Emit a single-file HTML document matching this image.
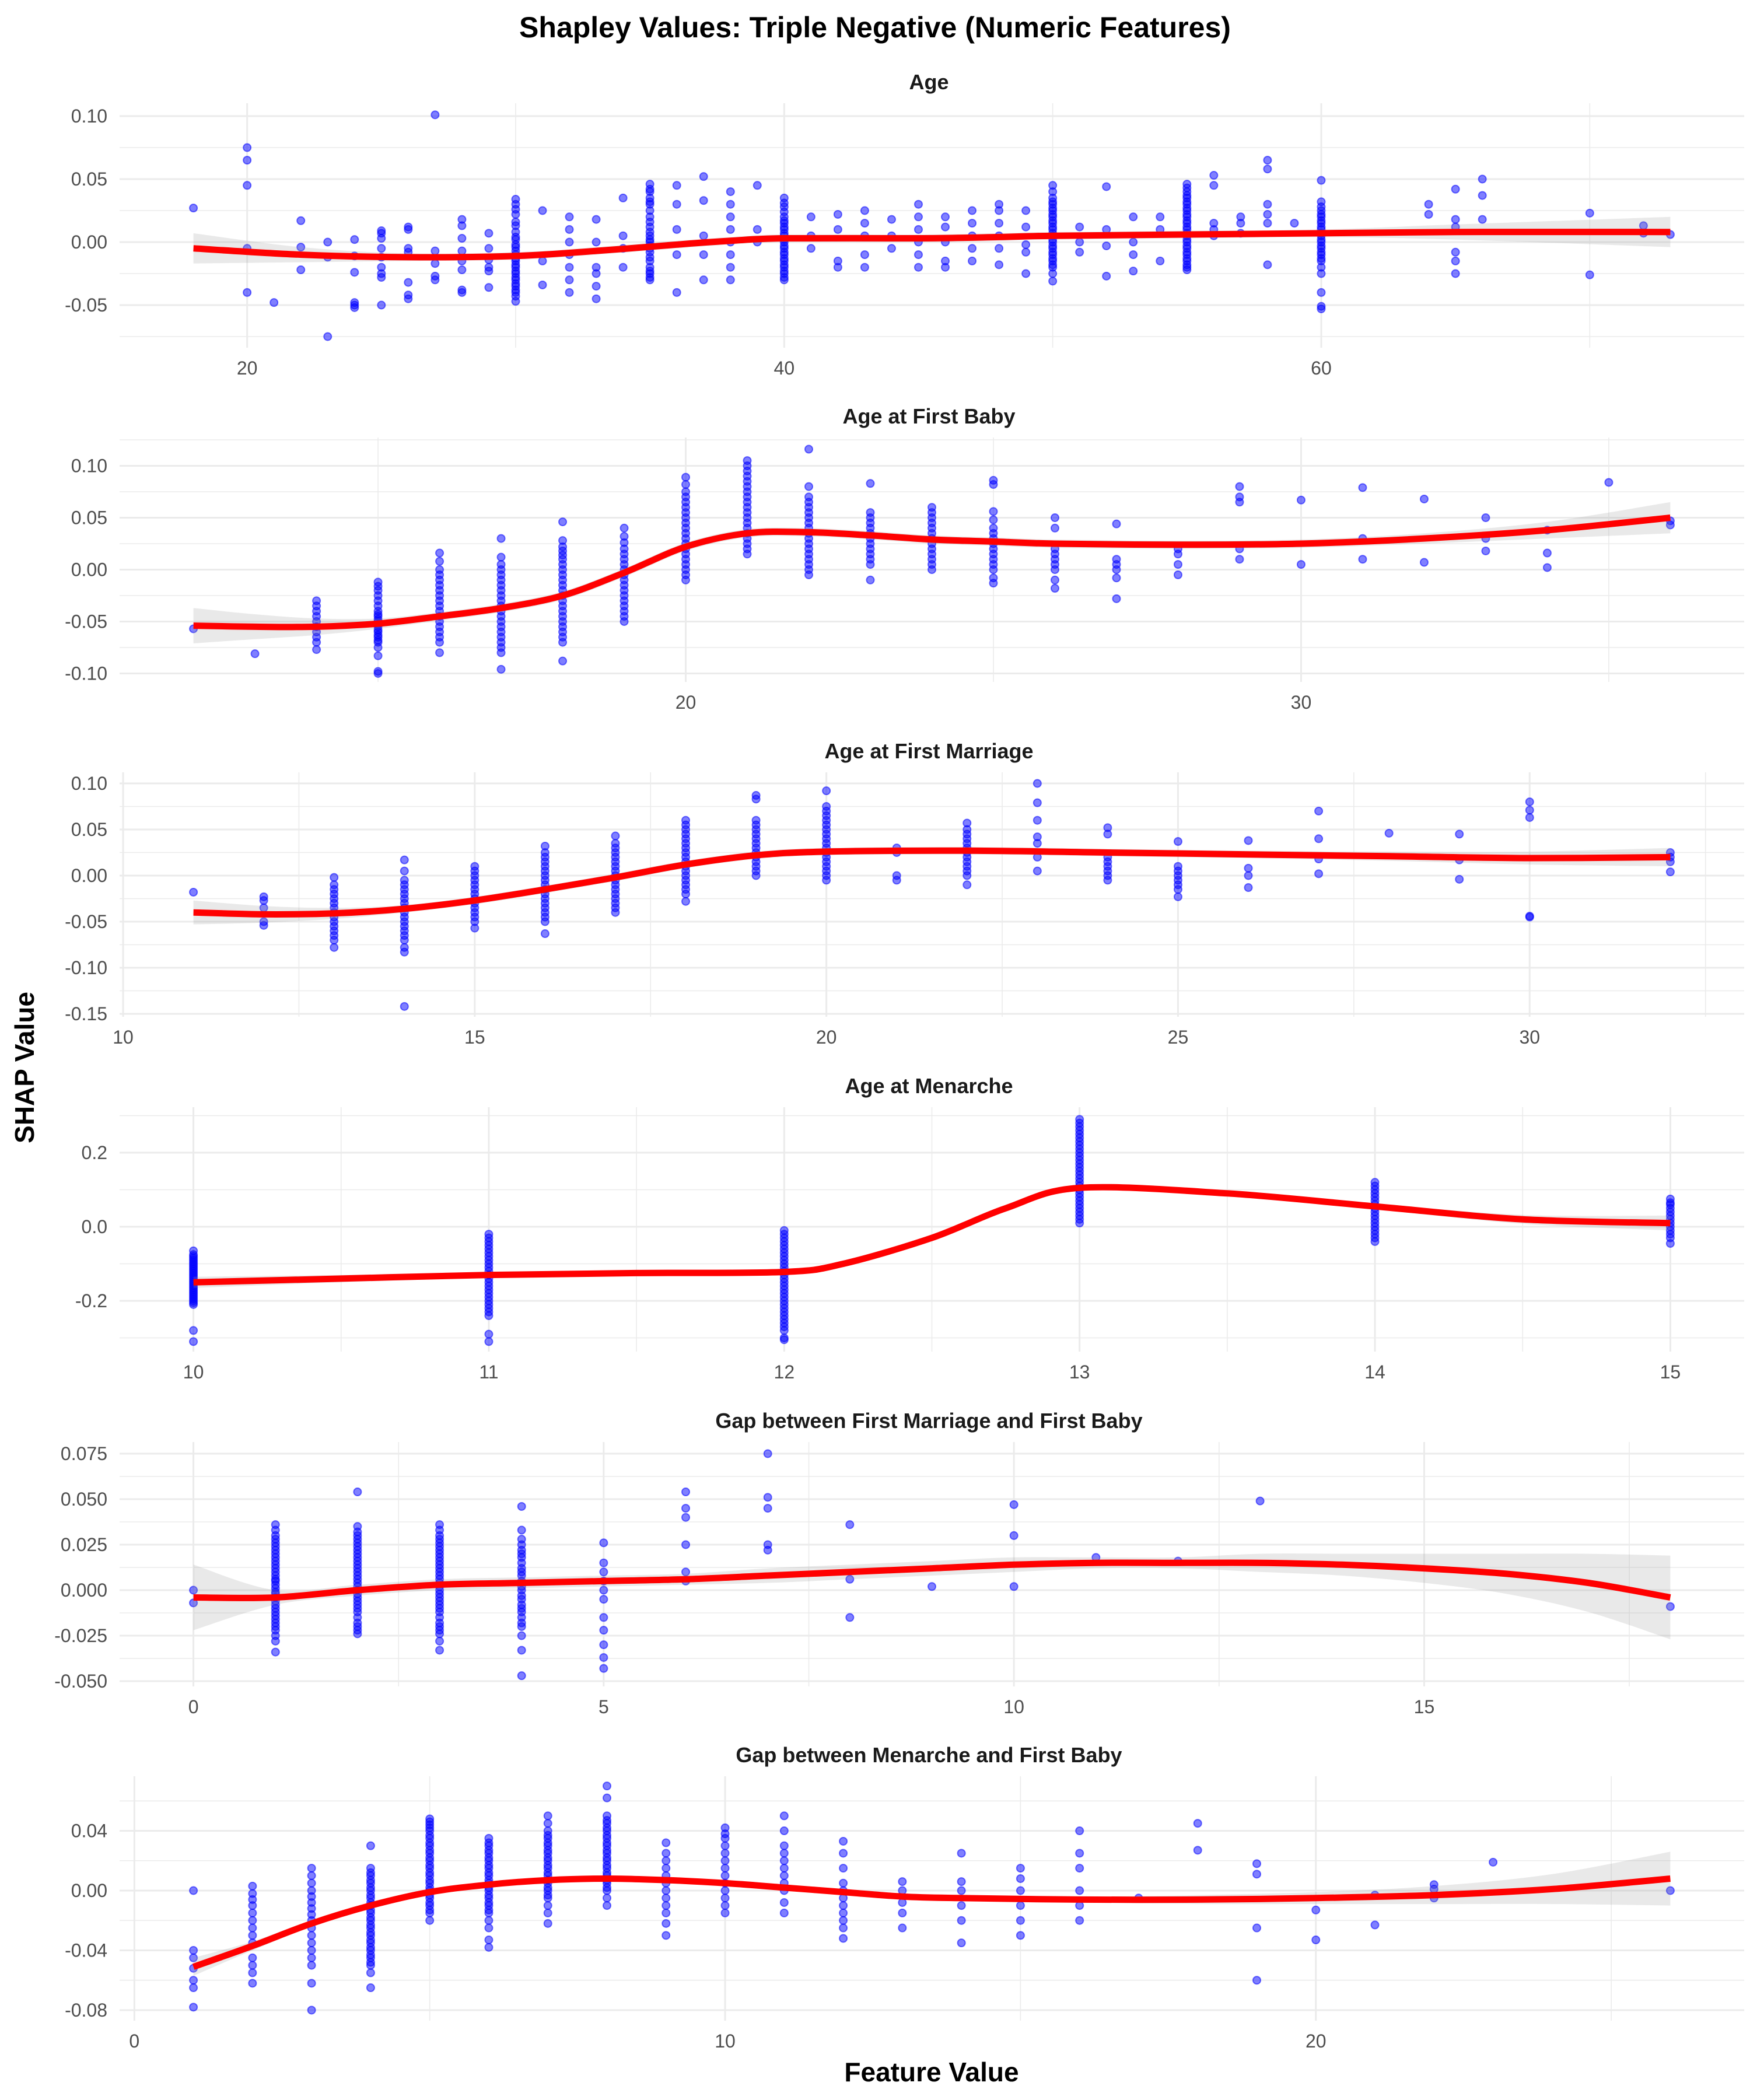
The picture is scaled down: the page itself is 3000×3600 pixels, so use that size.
<!DOCTYPE html>
<html><head><meta charset="utf-8">
<style>
html,body{margin:0;padding:0;background:#fff;}
svg{display:block;}
text{font-family:"Liberation Sans",sans-serif;}
</style></head>
<body>
<svg id="chart" width="3000" height="3600" xmlns="http://www.w3.org/2000/svg">
<rect width="3000" height="3600" fill="#fff"/>
<text x="1500" y="64" text-anchor="middle" font-size="50" font-weight="bold" fill="#000">Shapley Values: Triple Negative (Numeric Features)</text>
<text transform="translate(58,1830) rotate(-90)" text-anchor="middle" font-size="46" font-weight="bold" fill="#000">SHAP Value</text>
<text x="1597" y="3568" text-anchor="middle" font-size="46" font-weight="bold" fill="#000">Feature Value</text>
</svg>
<script>
// ---------- Panel 1: Age ----------
const ageX = [18,20,21,22,23,24,25,26,27,28,29,30,31,32,33,34,35,36,37,38,39,40,41,42,43,44,45,46,47,48,49,50,51,52,53,54,55,56,57,58,59,60,64,65,66,70,72,73];
const ageVals = [[0.027],[0.075,0.065,0.045,-0.005,-0.04],[-0.048],[0.017,-0.004,-0.022],[0.0,-0.012,-0.075],
[0.002,-0.011,-0.024,-0.048,-0.05,-0.052],[0.009,0.007,0.003,-0.005,-0.012,-0.02,-0.025,-0.028,-0.05],
[0.012,0.01,-0.005,-0.008,-0.032,-0.042,-0.045],[0.101,-0.007,-0.017,-0.027,-0.03],
[0.018,0.013,0.003,-0.007,-0.015,-0.022,-0.038,-0.04],[0.007,-0.005,-0.014,-0.02,-0.023,-0.036],
[0.034,0.03,0.026,0.022,0.016,0.013,0.008,0.004,0.002,-0.002,-0.004,-0.007,-0.01,-0.013,-0.015,-0.018,-0.02,-0.023,-0.025,-0.028,-0.03,-0.033,-0.035,-0.038,-0.04,-0.043,-0.047],
[0.025,-0.015,-0.034],[0.02,0.01,0.0,-0.01,-0.02,-0.03,-0.04],[0.018,0.0,-0.02,-0.025,-0.035,-0.045],
[0.035,0.005,-0.005,-0.02],[0.046,0.042,0.04,0.035,0.032,0.03,0.025,0.02,0.016,0.012,0.008,0.005,0.002,0.0,-0.003,-0.005,-0.008,-0.012,-0.015,-0.02,-0.023,-0.025,-0.028,-0.03],
[0.045,0.03,0.01,-0.01,-0.04],[0.052,0.033,0.005,-0.01,-0.03],[0.04,0.03,0.02,0.01,0.0,-0.01,-0.02,-0.03],
[0.045,0.01,0.0],[0.035,0.031,0.028,0.024,0.02,0.017,0.015,0.012,0.01,0.007,0.005,0.002,0.0,-0.003,-0.005,-0.008,-0.01,-0.013,-0.015,-0.018,-0.02,-0.023,-0.025,-0.028,-0.03],
[0.02,0.005,-0.005],[0.022,0.01,-0.015,-0.02],[0.025,0.015,0.005,-0.01,-0.02],[0.018,0.005,-0.005],
[0.03,0.02,0.01,0.0,-0.01,-0.02],[0.02,0.012,0.0,-0.015,-0.02],[0.025,0.015,0.005,-0.005,-0.015],
[0.03,0.025,0.015,0.005,-0.005,-0.018],[0.025,0.012,-0.002,-0.008,-0.025],
[0.045,0.04,0.035,0.032,0.03,0.027,0.025,0.022,0.02,0.017,0.015,0.012,0.01,0.007,0.005,0.002,0.0,-0.003,-0.005,-0.008,-0.01,-0.013,-0.015,-0.018,-0.02,-0.025,-0.031],
[0.012,0.0,-0.008],[0.044,0.01,-0.003,-0.027],[0.02,0.0,-0.01,-0.023],[0.02,0.01,-0.015],
[0.046,0.043,0.04,0.037,0.035,0.032,0.03,0.027,0.025,0.022,0.02,0.017,0.015,0.012,0.01,0.007,0.005,0.002,0.0,-0.003,-0.005,-0.008,-0.01,-0.013,-0.015,-0.018,-0.02,-0.022],
[0.053,0.045,0.015,0.01,0.005],[0.02,0.015,0.007],[0.065,0.058,0.03,0.022,0.015,-0.018],[0.015],
[0.049,0.032,0.028,0.025,0.022,0.02,0.017,0.015,0.012,0.01,0.007,0.005,0.002,0.0,-0.003,-0.005,-0.008,-0.01,-0.013,-0.015,-0.02,-0.025,-0.04,-0.051,-0.053],
[0.03,0.022],[0.042,0.018,0.012,-0.008,-0.015,-0.025],[0.05,0.037,0.018],[0.023,-0.026],[0.013,0.007],[0.006]];
const ageSmoothX = [18,22,26,30,33,36,38,40,45,48,50,55,60,65,73];
const ageSmoothY = [-0.005,-0.01,-0.012,-0.011,-0.007,-0.002,0.001,0.003,0.003,0.004,0.005,0.006,0.007,0.008,0.008];
const ageSmoothSE = [0.012,0.006,0.003,0.003,0.003,0.003,0.003,0.003,0.003,0.003,0.003,0.003,0.003,0.006,0.012];
const ageXTicks = [20,40,60];
const ageYTicks = [-0.05,0,0.05,0.10];
const ageYLabels = ["-0.05","0.00","0.05","0.10"];

// ---------- Panel 2: Age at First Baby ----------
const babyX = [12,13,14,15,16,17,18,19,20,21,22,23,24,25,26,27,28,29,30,31,32,33,34,35,36];
const babyVals = [[-0.057],[-0.081],[-0.03,-0.035,-0.04,-0.045,-0.05,-0.055,-0.06,-0.065,-0.07,-0.077],
[-0.012,-0.016,-0.02,-0.025,-0.03,-0.035,-0.04,-0.043,-0.045,-0.048,-0.05,-0.053,-0.055,-0.058,-0.06,-0.063,-0.065,-0.068,-0.07,-0.075,-0.083,-0.098,-0.1],
[0.016,0.008,0.0,-0.005,-0.01,-0.015,-0.02,-0.025,-0.03,-0.035,-0.04,-0.045,-0.05,-0.055,-0.06,-0.065,-0.07,-0.08],
[0.03,0.012,0.005,0.0,-0.005,-0.01,-0.015,-0.02,-0.025,-0.03,-0.035,-0.04,-0.045,-0.05,-0.055,-0.06,-0.065,-0.07,-0.075,-0.08,-0.096],
[0.046,0.028,0.022,0.018,0.014,0.01,0.005,0.0,-0.005,-0.01,-0.015,-0.02,-0.025,-0.03,-0.035,-0.04,-0.045,-0.05,-0.055,-0.06,-0.065,-0.07,-0.088],
[0.04,0.032,0.026,0.02,0.015,0.01,0.005,0.0,-0.005,-0.01,-0.015,-0.02,-0.025,-0.03,-0.035,-0.04,-0.045,-0.05],
[0.089,0.082,0.075,0.07,0.065,0.06,0.055,0.05,0.045,0.04,0.035,0.03,0.025,0.02,0.015,0.01,0.005,0.0,-0.005,-0.01],
[0.105,0.1,0.095,0.09,0.085,0.08,0.075,0.07,0.065,0.06,0.055,0.05,0.045,0.04,0.035,0.03,0.025,0.02,0.015],
[0.116,0.08,0.07,0.065,0.06,0.055,0.05,0.045,0.04,0.035,0.03,0.025,0.02,0.015,0.01,0.005,0.0,-0.005],
[0.083,0.055,0.05,0.045,0.04,0.035,0.03,0.025,0.02,0.015,0.01,0.005,-0.01],[0.06,0.055,0.05,0.045,0.04,0.035,0.03,0.025,0.02,0.015,0.01,0.005,0.0],
[0.086,0.082,0.056,0.048,0.04,0.035,0.03,0.025,0.02,0.015,0.01,0.005,0.0,-0.008,-0.013],[0.05,0.04,0.02,0.015,0.01,0.005,0.0,-0.01,-0.018],
[0.044,0.01,0.005,0.0,-0.008,-0.028],[0.02,0.015,0.005,-0.005],[0.08,0.07,0.065,0.02,0.01],
[0.067,0.005],[0.079,0.03,0.01],[0.068,0.007],[0.05,0.03,0.018],[0.038,0.016,0.002],[0.084],[0.047,0.043]];
const babySmoothX = [12,13,14,15,16,17,18,19,20,21,22,23,24,25,26,28,30,32,34,36];
const babySmoothY = [-0.054,-0.055,-0.055,-0.052,-0.045,-0.037,-0.025,-0.003,0.022,0.035,0.036,0.033,0.029,0.027,0.025,0.024,0.025,0.03,0.038,0.05];
const babySmoothSE = [0.017,0.012,0.008,0.005,0.004,0.004,0.004,0.004,0.004,0.004,0.004,0.004,0.004,0.004,0.004,0.004,0.004,0.005,0.008,0.015];
const babyXTicks = [20,30];
const babyYTicks = [-0.10,-0.05,0,0.05,0.10];
const babyYLabels = ["-0.10","-0.05","0.00","0.05","0.10"];

// ---------- Panel 3: Age at First Marriage ----------
const marX = [11,12,13,14,15,16,17,18,19,20,21,22,23,24,25,26,27,28,29,30,32];
const marVals = [[-0.018],[-0.023,-0.027,-0.035,-0.05,-0.054],
[-0.002,-0.01,-0.015,-0.02,-0.025,-0.03,-0.035,-0.04,-0.045,-0.05,-0.055,-0.06,-0.065,-0.07,-0.078],
[0.017,0.005,-0.005,-0.01,-0.015,-0.02,-0.025,-0.03,-0.035,-0.04,-0.045,-0.05,-0.055,-0.06,-0.065,-0.07,-0.078,-0.083,-0.142],
[0.01,0.005,0.0,-0.005,-0.01,-0.015,-0.02,-0.025,-0.03,-0.035,-0.04,-0.045,-0.05,-0.057],
[0.032,0.025,0.02,0.015,0.01,0.005,0.0,-0.005,-0.01,-0.015,-0.02,-0.025,-0.03,-0.035,-0.04,-0.045,-0.05,-0.063],
[0.043,0.035,0.03,0.025,0.02,0.015,0.01,0.005,0.0,-0.005,-0.01,-0.015,-0.02,-0.025,-0.03,-0.035,-0.04],
[0.06,0.055,0.05,0.045,0.04,0.035,0.03,0.025,0.02,0.015,0.01,0.005,0.0,-0.005,-0.01,-0.015,-0.02,-0.028],
[0.087,0.083,0.06,0.055,0.05,0.045,0.04,0.035,0.03,0.025,0.02,0.015,0.01,0.005,0.0],
[0.092,0.075,0.07,0.065,0.06,0.055,0.05,0.045,0.04,0.035,0.03,0.025,0.02,0.015,0.01,0.005,0.0,-0.005],
[0.03,0.025,0.0,-0.005],[0.057,0.05,0.045,0.04,0.035,0.03,0.025,0.02,0.015,0.01,0.005,0.0,-0.01],
[0.1,0.079,0.06,0.042,0.035,0.02,0.005],[0.052,0.045,0.02,0.015,0.01,0.005,0.0,-0.005],
[0.037,0.01,0.005,0.0,-0.005,-0.01,-0.015,-0.023],[0.038,0.008,0.0,-0.013],[0.07,0.04,0.018,0.002],
[0.046],[0.045,0.017,-0.004],[0.08,0.071,0.063,-0.044,-0.045],[0.025,0.02,0.015,0.004]];
const marSmoothX = [11,12,13,14,15,16,17,18,19,20,22,24,26,28,30,32];
const marSmoothY = [-0.04,-0.042,-0.041,-0.036,-0.027,-0.015,-0.002,0.012,0.022,0.026,0.027,0.025,0.023,0.021,0.019,0.02];
const marSmoothSE = [0.013,0.009,0.006,0.004,0.004,0.004,0.004,0.004,0.004,0.004,0.004,0.004,0.004,0.005,0.007,0.01];
const marXTicks = [10,15,20,25,30];
const marYTicks = [-0.15,-0.10,-0.05,0,0.05,0.10];
const marYLabels = ["-0.15","-0.10","-0.05","0.00","0.05","0.10"];

// ---------- Panel 4: Age at Menarche ----------
const menX = [10,11,12,13,14,15];
const menVals = [[-0.065,-0.075,-0.08,-0.085,-0.09,-0.095,-0.1,-0.105,-0.11,-0.115,-0.12,-0.125,-0.13,-0.135,-0.14,-0.145,-0.15,-0.155,-0.16,-0.165,-0.17,-0.175,-0.18,-0.185,-0.19,-0.195,-0.2,-0.205,-0.21,-0.28,-0.31],
[-0.02,-0.03,-0.04,-0.05,-0.06,-0.07,-0.08,-0.09,-0.1,-0.11,-0.12,-0.13,-0.14,-0.15,-0.16,-0.17,-0.18,-0.19,-0.2,-0.21,-0.22,-0.23,-0.24,-0.29,-0.31],
[-0.01,-0.02,-0.03,-0.04,-0.05,-0.06,-0.07,-0.08,-0.09,-0.1,-0.11,-0.12,-0.13,-0.14,-0.15,-0.16,-0.17,-0.18,-0.19,-0.2,-0.21,-0.22,-0.23,-0.24,-0.25,-0.26,-0.27,-0.28,-0.3,-0.305],
[0.29,0.28,0.27,0.26,0.25,0.24,0.23,0.22,0.21,0.2,0.19,0.18,0.17,0.16,0.15,0.14,0.13,0.12,0.11,0.1,0.09,0.08,0.07,0.06,0.05,0.04,0.03,0.02,0.01],
[0.12,0.11,0.1,0.09,0.08,0.07,0.06,0.05,0.04,0.03,0.02,0.01,0.0,-0.01,-0.02,-0.03,-0.04],
[0.075,0.065,0.06,0.05,0.04,0.03,0.02,0.01,0.0,-0.01,-0.02,-0.03,-0.045]];
const menSmoothX = [10,10.5,11,11.5,12,12.2,12.5,12.75,13,13.5,14,14.5,15];
const menSmoothY = [-0.15,-0.14,-0.13,-0.125,-0.122,-0.1,-0.03,0.05,0.105,0.09,0.055,0.02,0.01];
const menSmoothSE = [0.015,0.01,0.008,0.008,0.008,0.008,0.008,0.008,0.008,0.008,0.008,0.012,0.02];
const menXTicks = [10,11,12,13,14,15];
const menYTicks = [-0.2,0,0.2];
const menYLabels = ["-0.2","0.0","0.2"];

// ---------- Panel 5: Gap between First Marriage and First Baby ----------
const gapMbX = [0,1,2,3,4,5,6,7,8,9,10,11,12,13,18];
const gapMbVals = [[0.0,-0.007],
[0.036,0.033,0.03,0.028,0.026,0.024,0.022,0.02,0.018,0.016,0.014,0.012,0.01,0.008,0.006,0.005,0.003,0.001,-0.001,-0.002,-0.004,-0.006,-0.008,-0.01,-0.012,-0.014,-0.016,-0.018,-0.02,-0.022,-0.025,-0.028,-0.034],
[0.054,0.035,0.032,0.03,0.028,0.026,0.024,0.022,0.02,0.018,0.016,0.014,0.012,0.01,0.008,0.006,0.004,0.002,0.0,-0.002,-0.004,-0.006,-0.008,-0.01,-0.012,-0.015,-0.018,-0.02,-0.022,-0.024],
[0.036,0.033,0.03,0.028,0.026,0.024,0.022,0.02,0.018,0.016,0.014,0.012,0.01,0.008,0.006,0.004,0.002,0.0,-0.002,-0.004,-0.006,-0.008,-0.01,-0.012,-0.015,-0.018,-0.02,-0.022,-0.024,-0.028,-0.033],
[0.046,0.033,0.028,0.025,0.022,0.02,0.018,0.015,0.012,0.01,0.008,0.005,0.002,0.0,-0.003,-0.005,-0.008,-0.01,-0.012,-0.015,-0.018,-0.02,-0.025,-0.033,-0.047],
[0.026,0.015,0.01,0.005,0.0,-0.005,-0.015,-0.022,-0.03,-0.037,-0.043],
[0.054,0.045,0.04,0.025,0.01,0.005],[0.075,0.051,0.045,0.025,0.022],[0.036,0.006,-0.015],[0.002],
[0.047,0.03,0.002],[0.018],[0.016],[0.049],[-0.009]];
const gapMbSmoothX = [0,1,2,3,4,5,6,7,8,9,10,11,12,13,14,15,16,17,18];
const gapMbSmoothY = [-0.004,-0.004,0.0,0.003,0.004,0.005,0.006,0.008,0.01,0.012,0.014,0.015,0.015,0.015,0.014,0.012,0.009,0.004,-0.004];
const gapMbSmoothSE = [0.018,0.004,0.003,0.003,0.003,0.003,0.003,0.004,0.004,0.004,0.004,0.003,0.003,0.005,0.006,0.008,0.011,0.016,0.023];
const gapMbXTicks = [0,5,10,15];
const gapMbYTicks = [-0.05,-0.025,0,0.025,0.05,0.075];
const gapMbYLabels = ["-0.050","-0.025","0.000","0.025","0.050","0.075"];

// ---------- Panel 6: Gap between Menarche and First Baby ----------
const gapMenX = [1,2,3,4,5,6,7,8,9,10,11,12,13,14,15,16,17,18,19,20,21,22,23,26];
const gapMenVals = [[0.0,-0.04,-0.045,-0.052,-0.06,-0.065,-0.078],
[0.003,-0.002,-0.006,-0.01,-0.015,-0.02,-0.025,-0.03,-0.035,-0.045,-0.05,-0.055,-0.062],
[0.015,0.01,0.005,0.0,-0.004,-0.008,-0.012,-0.016,-0.02,-0.025,-0.03,-0.035,-0.04,-0.045,-0.05,-0.062,-0.08],
[0.03,0.015,0.012,0.01,0.007,0.005,0.002,0.0,-0.003,-0.005,-0.008,-0.01,-0.013,-0.015,-0.018,-0.02,-0.023,-0.025,-0.028,-0.03,-0.033,-0.035,-0.038,-0.04,-0.043,-0.045,-0.048,-0.05,-0.055,-0.065],
[0.048,0.046,0.044,0.042,0.04,0.037,0.035,0.032,0.03,0.027,0.025,0.022,0.02,0.017,0.015,0.012,0.01,0.007,0.005,0.002,0.0,-0.003,-0.005,-0.008,-0.01,-0.013,-0.015,-0.02],
[0.035,0.032,0.03,0.027,0.025,0.022,0.02,0.017,0.015,0.012,0.01,0.007,0.005,0.002,0.0,-0.003,-0.005,-0.008,-0.01,-0.013,-0.015,-0.02,-0.025,-0.033,-0.038],
[0.05,0.045,0.04,0.037,0.035,0.032,0.03,0.027,0.025,0.022,0.02,0.017,0.015,0.012,0.01,0.007,0.005,0.002,0.0,-0.003,-0.005,-0.01,-0.015,-0.022],
[0.07,0.062,0.05,0.047,0.045,0.042,0.04,0.037,0.035,0.032,0.03,0.027,0.025,0.022,0.02,0.017,0.015,0.012,0.01,0.007,0.005,0.002,0.0,-0.005,-0.01],
[0.032,0.025,0.02,0.015,0.01,0.005,0.0,-0.005,-0.01,-0.015,-0.022,-0.03],
[0.042,0.038,0.035,0.03,0.025,0.02,0.015,0.01,0.005,0.0,-0.005,-0.01,-0.015],
[0.05,0.04,0.03,0.025,0.02,0.015,0.01,0.005,0.0,-0.008,-0.015],
[0.033,0.025,0.015,0.005,0.0,-0.005,-0.01,-0.015,-0.02,-0.025,-0.032],
[0.006,0.0,-0.008,-0.015,-0.025],[0.025,0.006,0.0,-0.01,-0.02,-0.035],
[0.015,0.008,0.0,-0.01,-0.02,-0.03],[0.04,0.025,0.015,0.0,-0.01,-0.02],[-0.005],[0.045,0.027],
[0.018,0.011,-0.025,-0.06],[-0.013,-0.033],[-0.003,-0.023],[0.004,0.001,-0.005],[0.019],[0.0]];
const gapMenSmoothX = [1,2,3,4,5,6,7,8,9,10,11,12,13,14,16,18,20,22,24,26];
const gapMenSmoothY = [-0.051,-0.037,-0.022,-0.01,-0.001,0.004,0.007,0.008,0.007,0.005,0.002,-0.001,-0.004,-0.005,-0.006,-0.006,-0.005,-0.003,0.001,0.008];
const gapMenSmoothSE = [0.006,0.003,0.002,0.002,0.002,0.002,0.002,0.002,0.002,0.002,0.002,0.002,0.002,0.002,0.002,0.003,0.004,0.006,0.01,0.018];
const gapMenXTicks = [0,10,20];
const gapMenYTicks = [-0.08,-0.04,0,0.04];
const gapMenYLabels = ["-0.08","-0.04","0.00","0.04"];

const panels = [
 {name:'age', title:'Age', top:177, y0:415, ys:2160, xmin:18, xmax:73, X:ageX, V:ageVals, SX:ageSmoothX, SY:ageSmoothY, SE:ageSmoothSE, XT:ageXTicks, YT:ageYTicks, YL:ageYLabels, xminor:10, yminorStep:0.025},
 {name:'age-first-baby', title:'Age at First Baby', top:750, y0:976.5, ys:1780, xmin:12, xmax:36, X:babyX, V:babyVals, SX:babySmoothX, SY:babySmoothY, SE:babySmoothSE, XT:babyXTicks, YT:babyYTicks, YL:babyYLabels, xminor:5, yminorStep:0.025},
 {name:'age-first-marriage', title:'Age at First Marriage', top:1324, y0:1501, ys:1580, xmin:11, xmax:32, X:marX, V:marVals, SX:marSmoothX, SY:marSmoothY, SE:marSmoothSE, XT:marXTicks, YT:marYTicks, YL:marYLabels, xminor:2.5, yminorStep:0.025},
 {name:'age-menarche', title:'Age at Menarche', top:1898, y0:2103, ys:635, xmin:10, xmax:15, X:menX, V:menVals, SX:menSmoothX, SY:menSmoothY, SE:menSmoothSE, XT:menXTicks, YT:menYTicks, YL:menYLabels, xminor:0.5, yminorStep:0.1},
 {name:'gap-marriage-baby', title:'Gap between First Marriage and First Baby', top:2472, y0:2726, ys:3120, xmin:0, xmax:18, X:gapMbX, V:gapMbVals, SX:gapMbSmoothX, SY:gapMbSmoothY, SE:gapMbSmoothSE, XT:gapMbXTicks, YT:gapMbYTicks, YL:gapMbYLabels, xminor:2.5, yminorStep:0.0125},
 {name:'gap-menarche-baby', title:'Gap between Menarche and First Baby', top:3045, y0:3241, ys:2562, xmin:1, xmax:26, X:gapMenX, V:gapMenVals, SX:gapMenSmoothX, SY:gapMenSmoothY, SE:gapMenSmoothSE, XT:gapMenXTicks, YT:gapMenYTicks, YL:gapMenYLabels, xminor:5, yminorStep:0.02}
];

const NS='http://www.w3.org/2000/svg';
const svg=document.getElementById('chart');
const PL=205, PR=2990, PH=419;
function mk(tag,attrs,parent){const e=document.createElementNS(NS,tag);for(const k in attrs)e.setAttribute(k,attrs[k]);(parent||svg).appendChild(e);return e;}
function pathFrom(pts){
  let d='M'+pts[0][0].toFixed(1)+','+pts[0][1].toFixed(1);
  for(let i=0;i<pts.length-1;i++){
    const p0=pts[Math.max(0,i-1)],p1=pts[i],p2=pts[i+1],p3=pts[Math.min(pts.length-1,i+2)];
    const c1=[p1[0]+(p2[0]-p0[0])/6,p1[1]+(p2[1]-p0[1])/6];
    const c2=[p2[0]-(p3[0]-p1[0])/6,p2[1]-(p3[1]-p1[1])/6];
    d+='C'+c1[0].toFixed(1)+','+c1[1].toFixed(1)+' '+c2[0].toFixed(1)+','+c2[1].toFixed(1)+' '+p2[0].toFixed(1)+','+p2[1].toFixed(1);
  }
  return d;
}
panels.forEach(p=>{
  const g=mk('g',{});
  
  
  const span=p.xmax-p.xmin, pad=span*0.05;
  const lo=p.xmin-pad, hi=p.xmax+pad;
  const sx=v=>PL+(v-lo)/(hi-lo)*(PR-PL);
  const sy=v=>p.y0-v*p.ys;
  const top=p.top, bot=p.top+PH;
  const vMin=(p.y0-bot)/p.ys, vMax=(p.y0-top)/p.ys;
  const st=p.yminorStep;
  for(let k=Math.ceil(vMin/st);k<=Math.floor(vMax/st);k++){
    const v=k*st; const y=sy(v);
    const major=p.YT.some(t=>Math.abs(t-v)<1e-9);
    const l=mk('line',{x1:PL,x2:PR,y1:y,y2:y,stroke:'#ebebeb','stroke-width':major?3:1.6},g);
    
    
  }
  for(let k=Math.ceil(lo/p.xminor);k<=Math.floor(hi/p.xminor);k++){
    const v=k*p.xminor; const x=sx(v);
    const major=p.XT.some(t=>Math.abs(t-v)<1e-9);
    const l=mk('line',{x1:x,x2:x,y1:top,y2:bot,stroke:'#ebebeb','stroke-width':major?3:1.6},g);
    
    
  }
  p.YT.forEach((v,i)=>{
    const t=mk('text',{x:184,y:sy(v)+11,'text-anchor':'end','font-size':32,fill:'#4d4d4d'},g);
    t.textContent=p.YL[i];
    
    
  });
  p.XT.forEach(v=>{
    const t=mk('text',{x:sx(v),y:bot+46,'text-anchor':'middle','font-size':32,fill:'#4d4d4d'},g);
    t.textContent=String(v);
    
    
  });
  const tt=mk('text',{x:(PL+PR)/2-5,y:top-24,'text-anchor':'middle','font-size':36,'font-weight':'bold',fill:'#1a1a1a'},g);
  tt.textContent=p.title;
  
  
  p.X.forEach((xv,i)=>{
    p.V[i].forEach(v=>{
      const c=mk('circle',{cx:sx(xv),cy:sy(v),r:6.5,fill:'rgba(0,0,255,0.5)',stroke:'rgba(0,0,255,0.55)','stroke-width':2},g);
      
      
    });
  });
  const up=p.SX.map((x,i)=>[sx(x),sy(p.SY[i]+p.SE[i])]);
  const dn=p.SX.map((x,i)=>[sx(x),sy(p.SY[i]-p.SE[i])]).reverse();
  const dnPath=pathFrom(dn);
  const dr=pathFrom(up)+'L'+dn[0][0].toFixed(1)+','+dn[0][1].toFixed(1)+dnPath.slice(dnPath.indexOf('C'))+'Z';
  const rb=mk('path',{d:dr,fill:'rgba(153,153,153,0.22)',stroke:'none'},g);
  
  
  const ln=mk('path',{d:pathFrom(p.SX.map((x,i)=>[sx(x),sy(p.SY[i])])),fill:'none',stroke:'#ff0000','stroke-width':11,'stroke-linejoin':'round'},g);
  
  
});
</script>
</body></html>
